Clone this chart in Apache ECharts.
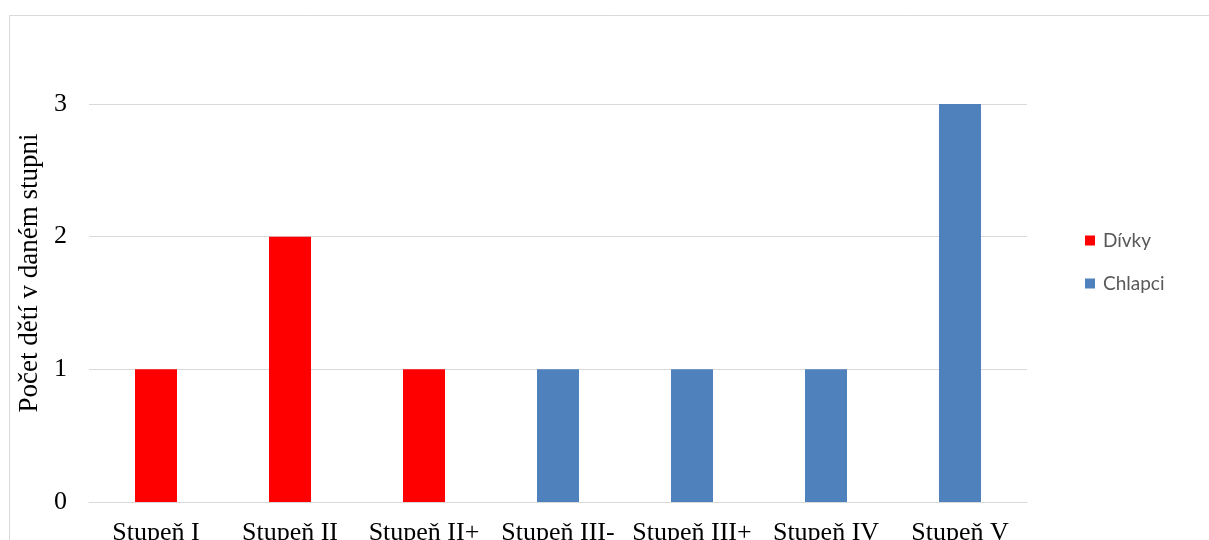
<!DOCTYPE html>
<html>
<head>
<meta charset="utf-8">
<script src="https://cdn.jsdelivr.net/npm/echarts@6/dist/echarts.min.js"></script>
<style>
  html, body { margin: 0; padding: 0; background: #fff; }
  #chart { width: 1209px; height: 540px; }
</style>
</head>
<body>
<div id="chart"></div>
<script>
// Grades (stupně) on the x axis
const categories = ['Stupeň I', 'Stupeň II', 'Stupeň II+', 'Stupeň III-', 'Stupeň III+', 'Stupeň IV', 'Stupeň V'];
// Number of girls / boys per grade (null = no bar)
const divky   = [1, 2, 1, null, null, null, null];
const chlapci = [null, null, null, 1, 1, 1, 3];
const yTicks = [0, 1, 2, 3];

const serif = '"Liberation Serif", "Times New Roman", serif';
const chart = echarts.init(document.getElementById('chart'));

chart.setOption({
  animation: false,
  graphic: [{
    type: 'rect',
    left: 7, top: 13,
    shape: { width: 1240, height: 600 },
    style: { fill: 'none', stroke: '#d9d9d9', lineWidth: 1 },
    silent: true
  }],
  grid: { left: 89, right: 182, top: 104, bottom: 38, outerBoundsMode: 'none', containLabel: false },
  legend: {
    orient: 'vertical',
    left: 1080,
    top: 226,
    itemWidth: 10,
    itemHeight: 10,
    itemGap: 24,
    icon: 'rect',
    textStyle: { fontFamily: 'Lato, "Noto Sans", sans-serif', fontSize: 19, color: '#595959', padding: [0, 0, 0, 3] },
    data: ['Dívky', 'Chlapci']
  },
  xAxis: {
    type: 'category',
    data: categories,
    axisLine: { lineStyle: { color: '#d9d9d9' } },
    axisTick: { show: false },
    axisLabel: { fontFamily: serif, fontSize: 26, color: '#000', margin: 18, interval: 0 }
  },
  yAxis: {
    type: 'value',
    min: yTicks[0],
    max: yTicks[yTicks.length - 1],
    interval: 1,
    name: 'Počet dětí v daném stupni',
    nameLocation: 'middle',
    nameGap: 43,
    nameTextStyle: { fontFamily: serif, fontSize: 27, color: '#000', padding: [0, 0, 0, 60] },
    axisLine: { show: false },
    axisTick: { show: false },
    axisLabel: { fontFamily: serif, fontSize: 26, color: '#000', margin: 22 },
    splitLine: { lineStyle: { color: '#d9d9d9' } }
  },
  series: [
    { name: 'Dívky', type: 'bar', stack: 'all', data: divky, barWidth: 42, itemStyle: { color: '#ff0000' } },
    { name: 'Chlapci', type: 'bar', stack: 'all', data: chlapci, barWidth: 42, itemStyle: { color: '#4f81bd' } }
  ]
});
</script>
</body>
</html>
